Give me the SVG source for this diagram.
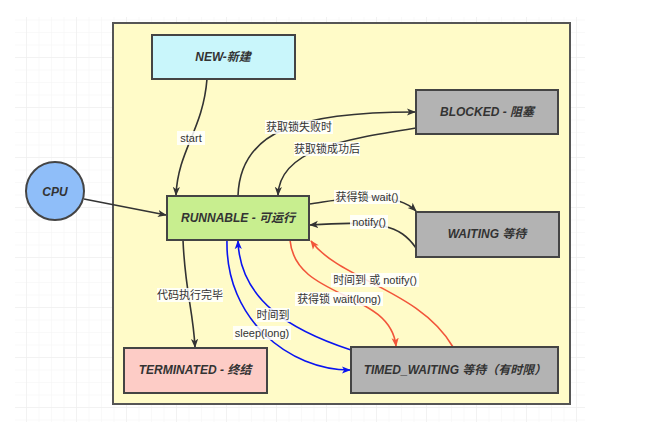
<svg xmlns="http://www.w3.org/2000/svg" width="660" height="434" viewBox="0 0 660 434">
<defs>
<pattern id="minor" x="26" y="7" width="12.5" height="12.5" patternUnits="userSpaceOnUse">
<path d="M12.5,0 L0,0 0,12.5" fill="none" stroke="#f4f4f4" stroke-width="1"/>
</pattern>
<pattern id="major" x="26" y="7" width="50" height="50" patternUnits="userSpaceOnUse">
<path d="M50,0 L0,0 0,50" fill="none" stroke="#ececec" stroke-width="1"/>
</pattern>
<marker id="ak" viewBox="0 0 10 10" refX="9" refY="5" markerWidth="9" markerHeight="9" markerUnits="userSpaceOnUse" orient="auto"><path d="M0,1 L10,5 L0,9 L2.5,5 Z" fill="#333"/></marker>
<marker id="ab" viewBox="0 0 10 10" refX="9" refY="5" markerWidth="9" markerHeight="9" markerUnits="userSpaceOnUse" orient="auto"><path d="M0,1 L10,5 L0,9 L2.5,5 Z" fill="#0a14f0"/></marker>
<marker id="ar" viewBox="0 0 10 10" refX="9" refY="5" markerWidth="9" markerHeight="9" markerUnits="userSpaceOnUse" orient="auto"><path d="M0,1 L10,5 L0,9 L2.5,5 Z" fill="#f2553a"/></marker>
</defs>
<style>
.node{stroke:#444;stroke-width:2}
.nt{font-family:"Liberation Sans","Noto Sans CJK SC",sans-serif;font-size:12px;font-weight:bold;font-style:italic;fill:#333;text-anchor:middle;dominant-baseline:central}
.lb{font-family:"Liberation Sans","Noto Sans CJK SC",sans-serif;font-size:11px;fill:#333;text-anchor:middle;dominant-baseline:central}
.lbg{fill:#ffffff;opacity:0.85}
.k{fill:none;stroke:#333;stroke-width:1.6}
.b{fill:none;stroke:#0a14f0;stroke-width:1.6}
.r{fill:none;stroke:#f2553a;stroke-width:1.6}
</style>
<rect width="660" height="434" fill="#fff"/>
<rect x="15" y="17" width="570" height="405" fill="url(#minor)"/>
<rect x="15" y="17" width="570" height="405" fill="url(#major)"/>
<g id="container"><rect x="113" y="23" width="457" height="381" fill="#fffbc8" stroke="#555" stroke-width="2"/></g>

<g id="connectors">
<path class="k" d="M207,79 C203,130 178,150 176,195" marker-end="url(#ak)"/>
<path class="k" d="M238,196 C240,130 300,112 415,112" marker-end="url(#ak)"/>
<path class="k" d="M416,128 C340,140 280,150 278,195" marker-end="url(#ak)"/>
<path class="k" d="M84,199 L166,215" marker-end="url(#ak)"/>
<path class="k" d="M309,204 C340,200 392,188 416,211" marker-end="url(#ak)"/>
<path class="k" d="M416,248 C400,225 380,220 310,225" marker-end="url(#ak)"/>
<path class="k" d="M183,240 C185,290 193,310 195,347" marker-end="url(#ak)"/>
<path class="b" d="M227,240 C225,320 290,370 350,370" marker-end="url(#ab)"/>
<path class="b" d="M351,350 C290,330 240,300 238,241" marker-end="url(#ab)"/>
<path class="r" d="M290,240 C295,300 390,290 396,346" marker-end="url(#ar)"/>
<path class="r" d="M453,347 C420,290 340,280 311,241" marker-end="url(#ar)"/>

<rect class="lbg" x="177" y="131" width="28" height="14"/><text class="lb" x="191" y="138">start</text>
<rect class="lbg" x="265" y="120" width="68" height="14"/><text class="lb" x="299" y="127">获取锁失败时</text>
<rect class="lbg" x="294" y="142" width="66" height="14"/><text class="lb" x="327" y="149">获取锁成功后</text>
<rect class="lbg" x="334" y="190" width="66" height="14"/><text class="lb" x="367" y="197">获得锁 wait()</text>
<rect class="lbg" x="350" y="215" width="38" height="14"/><text class="lb" x="369" y="222">notify()</text>
<rect class="lbg" x="157" y="288" width="66" height="14"/><text class="lb" x="190" y="295">代码执行完毕</text>
<rect class="lbg" x="256" y="308" width="34" height="14"/><text class="lb" x="273" y="315">时间到</text>
<rect class="lbg" x="233" y="326" width="58" height="14"/><text class="lb" x="262" y="333">sleep(long)</text>
<rect class="lbg" x="295" y="292" width="88" height="14"/><text class="lb" x="339" y="299">获得锁 wait(long)</text>
<rect class="lbg" x="331" y="273" width="88" height="14"/><text class="lb" x="375" y="280">时间到 或 notify()</text>
</g>

<g id="cpu"><circle class="node" cx="55" cy="191" r="29" fill="#8fbef9"/><text class="nt" x="55" y="192">CPU</text></g>
<g id="new"><rect class="node" x="152" y="35" width="143" height="44" fill="#c9f6fb"/><text class="nt" x="223" y="57">NEW-新建</text></g>
<g id="blocked"><rect class="node" x="416" y="90" width="142" height="44" fill="#b3b3b3"/><text class="nt" x="487" y="112">BLOCKED - 阻塞</text></g>
<g id="runnable"><rect class="node" x="167" y="196" width="142" height="44" fill="#c8ee8f"/><text class="nt" x="238" y="218">RUNNABLE - 可运行</text></g>
<g id="waiting"><rect class="node" x="416" y="212" width="143" height="45" fill="#b3b3b3"/><text class="nt" x="487" y="234">WAITING 等待</text></g>
<g id="terminated"><rect class="node" x="124" y="348" width="143" height="45" fill="#fdccc6"/><text class="nt" x="195" y="370">TERMINATED - 终结</text></g>
<g id="timed_waiting"><rect class="node" x="351" y="347" width="207" height="46" fill="#b3b3b3"/><text class="nt" x="455" y="370">TIMED_WAITING 等待（有时限）</text></g>
</svg>
